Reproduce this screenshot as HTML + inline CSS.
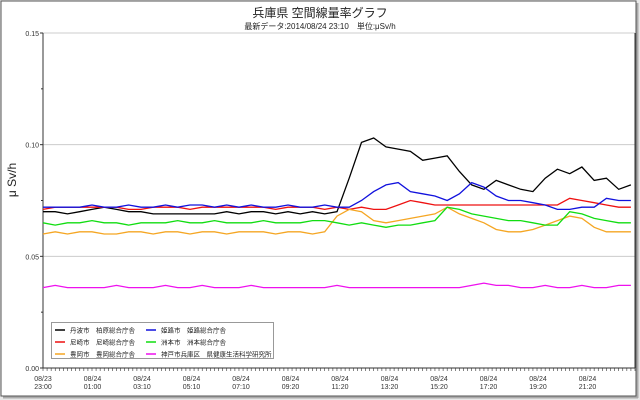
<!DOCTYPE html>
<html><head><meta charset="utf-8">
<style>
body{margin:0;background:#fff;}
svg{display:block;font-family:"Liberation Sans","Noto Sans CJK JP",sans-serif;}
</style></head>
<body>
<svg id="chart" width="640" height="400" viewBox="0 0 640 400">
<rect x="0" y="0" width="640" height="400" fill="#e8e8e8"/>
<rect x="1" y="1" width="635" height="395" fill="#fff" stroke="#555" stroke-width="1"/>
<line x1="3" y1="397.5" x2="638" y2="397.5" stroke="#aaa" stroke-width="2"/>
<line x1="637.5" y1="3" x2="637.5" y2="398" stroke="#aaa" stroke-width="2"/>
<text x="320" y="17" font-size="12" text-anchor="middle" fill="#222">兵庫県 空間線量率グラフ</text>
<text x="320" y="29" font-size="8" text-anchor="middle" fill="#222">最新データ:2014/08/24 23:10　単位:μSv/h</text>
<text transform="translate(16,180) rotate(-90)" font-size="12" text-anchor="middle" fill="#222">μ Sv/h</text>
<g id="grid"></g>
<g id="axes"></g>
<g id="series"></g>
<g id="legend"></g>
</svg>
<script>
const yTicks=[0,0.05,0.10,0.15];
const yTickLabels=["0.00","0.05","0.10","0.15"];
const xTickLabels=[["08/23","23:00"],["08/24","01:00"],["08/24","03:10"],["08/24","05:10"],["08/24","07:10"],["08/24","09:20"],["08/24","11:20"],["08/24","13:20"],["08/24","15:20"],["08/24","17:20"],["08/24","19:20"],["08/24","21:20"]];
const seriesNames=["丹波市　柏原総合庁舎","尼崎市　尼崎総合庁舎","豊岡市　豊岡総合庁舎","姫路市　姫路総合庁舎","洲本市　洲本総合庁舎","神戸市兵庫区　県健康生活科学研究所"];
const black=[0.070,0.070,0.069,0.070,0.071,0.072,0.071,0.070,0.070,0.069,0.069,0.069,0.069,0.069,0.069,0.070,0.069,0.070,0.070,0.069,0.070,0.069,0.070,0.069,0.070,0.085,0.101,0.103,0.099,0.098,0.097,0.093,0.094,0.095,0.088,0.082,0.080,0.084,0.082,0.080,0.079,0.085,0.089,0.087,0.090,0.084,0.085,0.080,0.082];
const red=[0.071,0.072,0.072,0.072,0.072,0.072,0.072,0.071,0.071,0.072,0.072,0.072,0.071,0.072,0.072,0.072,0.072,0.072,0.072,0.071,0.072,0.072,0.072,0.071,0.072,0.071,0.072,0.071,0.071,0.073,0.075,0.074,0.073,0.073,0.073,0.073,0.073,0.073,0.073,0.073,0.073,0.073,0.073,0.076,0.075,0.074,0.073,0.072,0.072];
const orange=[0.060,0.061,0.060,0.061,0.061,0.060,0.060,0.061,0.061,0.060,0.061,0.061,0.060,0.061,0.061,0.060,0.061,0.061,0.061,0.060,0.061,0.061,0.060,0.061,0.068,0.071,0.070,0.066,0.065,0.066,0.067,0.068,0.069,0.072,0.069,0.067,0.065,0.062,0.061,0.061,0.062,0.064,0.066,0.068,0.067,0.063,0.061,0.061,0.061];
const blue=[0.072,0.072,0.072,0.072,0.073,0.072,0.072,0.073,0.072,0.072,0.073,0.072,0.073,0.073,0.072,0.073,0.072,0.073,0.072,0.072,0.073,0.072,0.072,0.073,0.072,0.072,0.075,0.079,0.082,0.083,0.079,0.078,0.077,0.075,0.078,0.083,0.081,0.077,0.075,0.075,0.074,0.073,0.071,0.071,0.072,0.072,0.076,0.075,0.075];
const green=[0.065,0.064,0.065,0.065,0.066,0.065,0.065,0.064,0.065,0.065,0.065,0.066,0.065,0.065,0.066,0.065,0.065,0.065,0.066,0.065,0.065,0.065,0.066,0.066,0.065,0.064,0.065,0.064,0.063,0.064,0.064,0.065,0.066,0.072,0.071,0.069,0.068,0.067,0.066,0.066,0.065,0.064,0.064,0.070,0.069,0.067,0.066,0.065,0.065];
const magenta=[0.036,0.037,0.036,0.036,0.036,0.036,0.037,0.036,0.036,0.036,0.037,0.036,0.036,0.037,0.036,0.036,0.036,0.037,0.036,0.036,0.036,0.036,0.036,0.036,0.037,0.036,0.036,0.036,0.036,0.036,0.036,0.036,0.036,0.036,0.036,0.037,0.038,0.037,0.037,0.036,0.036,0.037,0.036,0.036,0.037,0.036,0.036,0.037,0.037];
const colors=["#000000","#ee1111","#f5a623","#1111dd","#11dd11","#ee11ee"];
const allSeries=[black,red,orange,blue,green,magenta];

const X0=43,X1=635,Y0=368,Y1=33,YMAX=0.15,TOTAL=145,STEP=3;
const xs=i=>X0+(i*STEP)/TOTAL*(X1-X0);
const xt=t=>X0+t/TOTAL*(X1-X0);
const ys=v=>Y0-v/YMAX*(Y0-Y1);
const NS="http://www.w3.org/2000/svg";
function mk(tag,attrs,parent){const e=document.createElementNS(NS,tag);for(const k in attrs)e.setAttribute(k,attrs[k]);parent.appendChild(e);return e;}
const grid=document.getElementById('grid'),axes=document.getElementById('axes'),ser=document.getElementById('series'),leg=document.getElementById('legend');

yTicks.forEach((v,i)=>{
  const y=ys(v);
  if(v>0){const g=mk('line',{x1:X0,y1:y,x2:X1,y2:y,stroke:'#ccc','stroke-width':1},grid);
  
  }
  const t=mk('text',{x:39,y:y+3,'font-size':7,'text-anchor':'end',fill:'#333'},axes);
  t.textContent=yTickLabels[i];
  
  
  mk('line',{x1:X0-3,y1:y,x2:X0,y2:y,stroke:'#333'},axes);
});
[0.025,0.075,0.125].forEach(v=>mk('line',{x1:X0-2,y1:ys(v),x2:X0,y2:ys(v),stroke:'#333'},axes));
const ax=mk('line',{x1:X0,y1:Y1,x2:X0,y2:Y0,stroke:'#333'},axes);


const bx=mk('line',{x1:X0,y1:Y0,x2:X1,y2:Y0,stroke:'#333'},axes);


mk('line',{x1:X1,y1:Y1,x2:X1,y2:Y0,stroke:'#333'},axes);
for(let t=0;t<=TOTAL;t++){mk('line',{x1:xt(t),y1:Y0,x2:xt(t),y2:Y0+3,stroke:'#333','stroke-width':0.6},axes);}
xTickLabels.forEach((l,i)=>{
  const x=X0+i*49.5;
  const t=mk('text',{x:x,y:381,'font-size':7,'text-anchor':'middle',fill:'#333'},axes);
  t.textContent=l[0];
  
  
  const t2=mk('text',{x:x,y:389,'font-size':7,'text-anchor':'middle',fill:'#333'},axes);
  t2.textContent=l[1];
  
  
});
allSeries.forEach((d,k)=>{
  const p=mk('polyline',{points:d.map((v,i)=>xs(i).toFixed(1)+','+ys(v).toFixed(1)).join(' '),fill:'none',stroke:colors[k],'stroke-width':1.3},ser);
  
  
});
mk('rect',{x:51.5,y:322.5,width:222,height:36,fill:'#fff',stroke:'#999'},leg);
seriesNames.forEach((n,k)=>{
  const col=Math.floor(k/3),row=k%3;
  const x=55+col*91,y=330+row*12;
  const l=mk('line',{x1:x,y1:y,x2:x+10,y2:y,stroke:colors[k],'stroke-width':1.5},leg);
  
  
  const t=mk('text',{x:x+15,y:y+2.5,'font-size':6.5,fill:'#222'},leg);
  t.textContent=n;
  
  
});
</script>
</body></html>
